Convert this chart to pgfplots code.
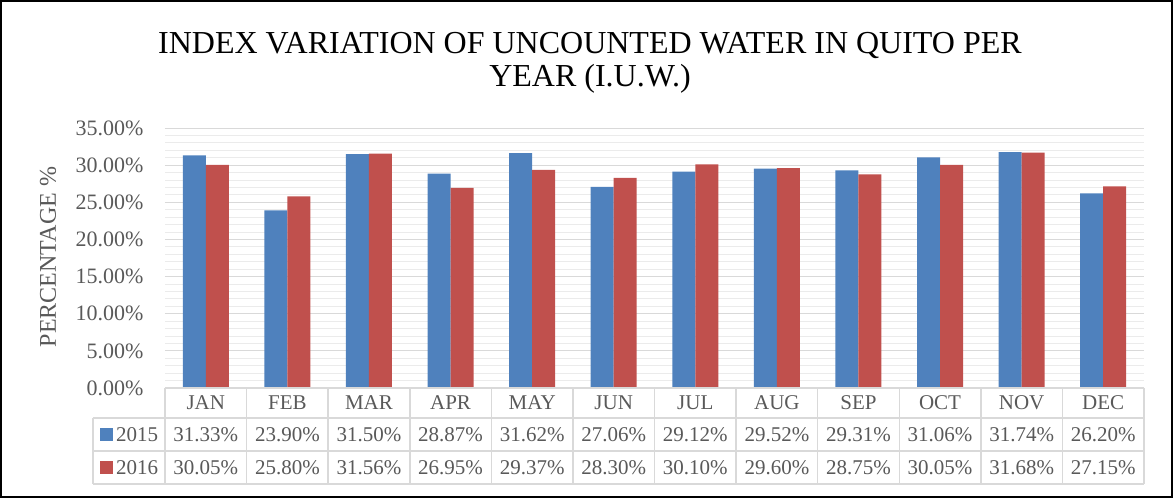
\documentclass[border=0pt]{standalone}
\usepackage{pgfplots}
\pgfplotsset{compat=1.18}
\usepackage{fontspec}
\setmainfont{Liberation Serif}

\definecolor{c2015}{HTML}{4F81BD}
\definecolor{c2016}{HTML}{C0504D}
\definecolor{txt}{HTML}{595959}
\definecolor{gridmaj}{HTML}{D9D9D9}
\definecolor{gridmin}{HTML}{EBEBEB}

\newcommand{\tabfont}{\fontsize{21}{25}\selectfont}

\begin{document}
\begin{tikzpicture}[x=1pt,y=1pt]
\begin{axis}[
    at={(0,0)}, anchor=south west,
    scale only axis,
    width=979pt, height=260pt,
    ybar=0pt, bar width=23pt,
    xmin=-0.5, xmax=11.5,
    ymin=0, ymax=35,
    xtick={0,...,11},
    xticklabels={JAN,FEB,MAR,APR,MAY,JUN,JUL,AUG,SEP,OCT,NOV,DEC},
    xticklabel style={anchor=center, yshift=-15pt, font=\tabfont, text=txt},
    ytick={0,5,...,35},
    minor y tick num=4,
    ymajorgrids, yminorgrids,
    major grid style={gridmaj, line width=1pt},
    minor grid style={gridmin, line width=0.8pt},
    axis line style={draw=none},
    major tick length=0pt, minor tick length=0pt,
    /pgf/number format/assume math mode=true,
    yticklabel={\pgfmathprintnumber[fixed,fixed zerofill,precision=2]{\tick}\%},
    yticklabel style={anchor=east, xshift=-18pt, font=\fontsize{22}{26}\selectfont, text=txt},
    clip=false,
]
\addplot[fill=c2015, draw=none] coordinates {
    (0,31.33) (1,23.90) (2,31.50) (3,28.87) (4,31.62) (5,27.06)
    (6,29.12) (7,29.52) (8,29.31) (9,31.06) (10,31.74) (11,26.20)
};
\addplot[fill=c2016, draw=none] coordinates {
    (0,30.05) (1,25.80) (2,31.56) (3,26.95) (4,29.37) (5,28.30)
    (6,30.10) (7,29.60) (8,28.75) (9,30.05) (10,31.68) (11,27.15)
};
\end{axis}

% data table under the plot
\begin{scope}[gridmaj, line width=1.5pt]
  \foreach \k in {0,...,12} \draw ({\k*979/12},0) -- ({\k*979/12},-96);
  \draw (0,0) -- (979,0);
  \draw (-72,-30) -- (979,-30);
  \draw (-72,-63) -- (979,-63);
  \draw (-72,-96) -- (979,-96);
  \draw (-72,-30) -- (-72,-96);
\end{scope}
\foreach \v [count=\i from 0] in {31.33,23.90,31.50,28.87,31.62,27.06,29.12,29.52,29.31,31.06,31.74,26.20}
  \node[font=\tabfont, text=txt] at ({(\i+0.5)*979/12},-47) {\v\%};
\foreach \v [count=\i from 0] in {30.05,25.80,31.56,26.95,29.37,28.30,30.10,29.60,28.75,30.05,31.68,27.15}
  \node[font=\tabfont, text=txt] at ({(\i+0.5)*979/12},-80) {\v\%};
\fill[c2015] (-65,-53) rectangle (-52,-40);
\fill[c2016] (-65,-86) rectangle (-52,-73);
\node[font=\tabfont, text=txt, anchor=west, inner sep=0pt] at (-49,-47) {2015};
\node[font=\tabfont, text=txt, anchor=west, inner sep=0pt] at (-49,-80) {2016};

% y label and title
\node[rotate=90, font=\fontsize{24}{28}\selectfont, text=txt] at (-117,131) {PERCENTAGE \%};
\node[font=\fontsize{32}{37}\selectfont] at (425,342) {INDEX VARIATION OF UNCOUNTED WATER IN QUITO PER};
\node[font=\fontsize{32}{37}\selectfont] at (425,309) {YEAR (I.U.W.)};

% chart frame
\draw[black, line width=2pt] (-164,-109) rectangle (1007,387);
\end{tikzpicture}
\end{document}
